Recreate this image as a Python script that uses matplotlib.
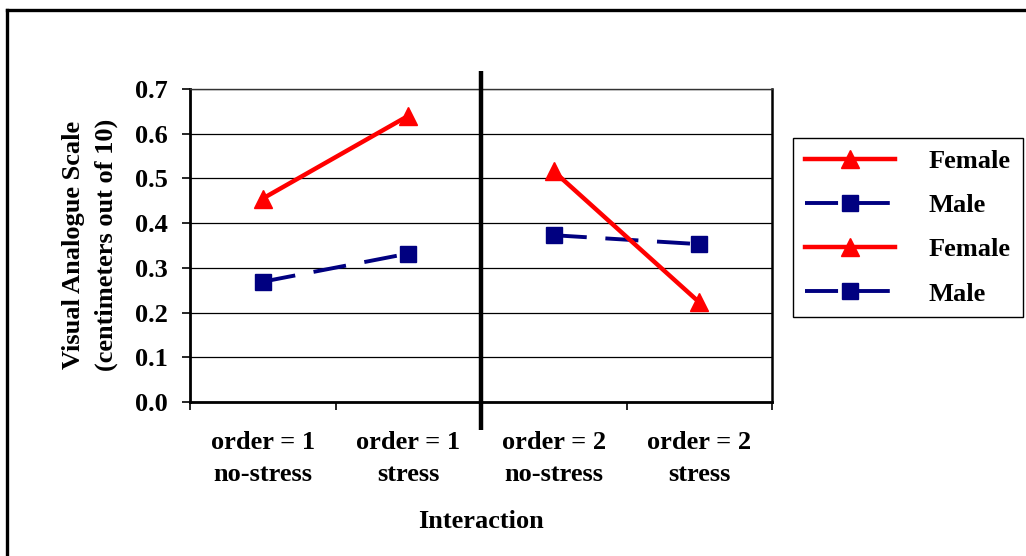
import matplotlib
matplotlib.use("Agg")
import matplotlib.pyplot as plt
from matplotlib.lines import Line2D
from matplotlib.transforms import blended_transform_factory

plt.rcParams['font.family'] = ['Liberation Serif', 'DejaVu Serif']
plt.rcParams['font.weight'] = 'bold'

categories = ['order = 1\nno-stress', 'order = 1\nstress',
              'order = 2\nno-stress', 'order = 2\nstress']
female_order1 = [0.455, 0.640]
male_order1 = [0.269, 0.332]
female_order2 = [0.516, 0.223]
male_order2 = [0.373, 0.353]

W, H = 1026, 556
FS = 19
fig = plt.figure(figsize=(W / 100, H / 100), dpi=100)
ax = fig.add_axes([190 / W, 1 - 402 / H, 582 / W, 313 / H])

red = '#ff0000'
navy = '#000080'

l1, = ax.plot([0, 1], female_order1, color=red, lw=3.2, marker='^', ms=12.5,
              label='Female', zorder=4)
l2, = ax.plot([0, 1], male_order1, color=navy, lw=2.8, marker='s', ms=12,
              label='Male', zorder=3)
l3, = ax.plot([2, 3], female_order2, color=red, lw=3.2, marker='^', ms=12.5,
              label='Female', zorder=4)
l4, = ax.plot([2, 3], male_order2, color=navy, lw=2.8, marker='s', ms=12,
              label='Male', zorder=3)
for ln in (l2, l4):
    ln.set_dashes([8.5, 4.8])
    ln.set_dash_capstyle('butt')

ax.set_xlim(-0.5, 3.5)
ax.set_ylim(0, 0.7)
ax.set_yticks([i / 10 for i in range(8)])
ax.set_yticklabels(['%.1f' % (i / 10) for i in range(8)], fontsize=FS,
                   fontweight='bold')
ax.yaxis.grid(True, color='black', lw=0.9)
ax.set_axisbelow(True)

ax.set_xticks(range(4))
ax.set_xticklabels(categories, fontsize=FS, fontweight='bold', linespacing=1.47)
ax.set_xticks([-0.5, 0.5, 1.5, 2.5, 3.5], minor=True)
ax.tick_params(axis='x', which='major', length=0, pad=21)
ax.tick_params(axis='x', which='minor', length=6, width=1.2, direction='out')
ax.tick_params(axis='y', length=6, width=1.2, direction='out', pad=10)

for side in ('left', 'bottom'):
    ax.spines[side].set_linewidth(2.0)
ax.spines['right'].set_linewidth(1.8)
ax.spines['top'].set_linewidth(1.0)
ax.spines['top'].set_color('#333333')

# separator between the two orders, reaching past the plot area
trans = blended_transform_factory(ax.transData, fig.transFigure)
ax.plot([1.5, 1.5], [1 - 71 / H, 1 - 430 / H], color='black', lw=3.2,
        transform=trans, clip_on=False, solid_capstyle='butt', zorder=6)

fig.text(90 / W, 1 - 245 / H, 'Visual Analogue Scale\n(centimeters out of 10)',
         rotation=90, ha='center', va='center', multialignment='center',
         fontsize=FS, fontweight='bold', linespacing=1.5)
fig.text(481 / W, 1 - 522 / H, 'Interaction', ha='center', va='center',
         fontsize=FS, fontweight='bold')

leg = fig.legend(handles=[l1, l2, l3, l4], loc='upper left',
                 bbox_to_anchor=(793 / W, 1 - 138 / H), borderaxespad=0,
                 fontsize=FS, handlelength=3.4, handletextpad=1.3,
                 labelspacing=0.78, borderpad=0.45, fancybox=False,
                 edgecolor='black', framealpha=1, markerscale=1.0)
leg.get_frame().set_linewidth(1.0)
for t in leg.get_texts():
    t.set_fontweight('bold')

# outer chart border (right and bottom edges fall outside the image)
fig.add_artist(Line2D([7 / W, 1.0], [1 - 10 / H, 1 - 10 / H], color='black',
                      lw=2.4, transform=fig.transFigure))
fig.add_artist(Line2D([7 / W, 7 / W], [1 - 10 / H, 0.0], color='black',
                      lw=2.4, transform=fig.transFigure))

fig.savefig('out.png', dpi=100)
